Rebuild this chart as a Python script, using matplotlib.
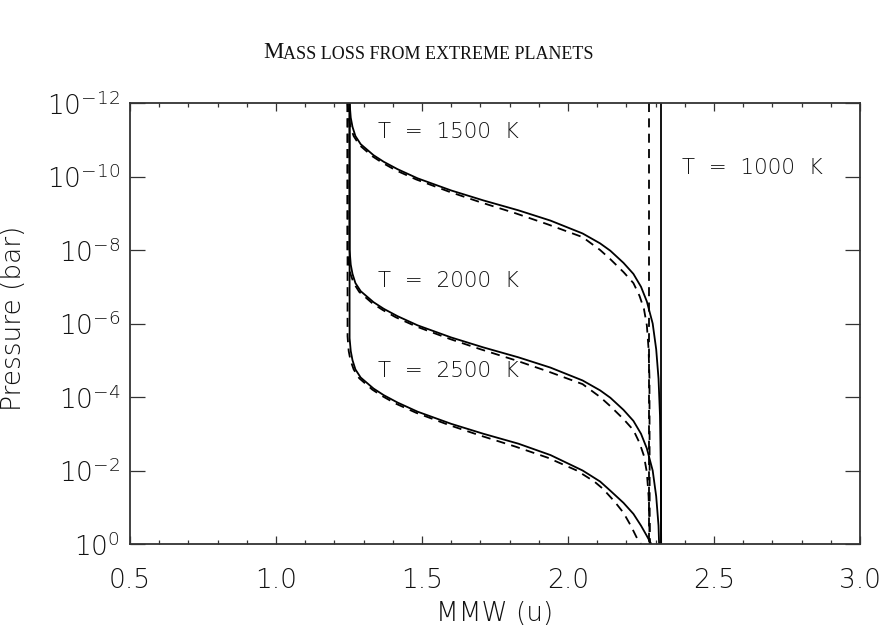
import numpy as np
import matplotlib
matplotlib.use('Agg')
import matplotlib.pyplot as plt
from matplotlib.ticker import FixedLocator, MultipleLocator, NullLocator

# values: mean molecular weight (u) vs log10 pressure (bar)
# solid = full model, dashed = comparison model

mmw_1500 = [1.252, 1.256, 1.262, 1.272, 1.29, 1.334, 1.369, 1.416, 1.485, 1.60, 1.71, 1.83,
            1.94, 2.05, 2.11, 2.145, 2.19, 2.224, 2.25, 2.27, 2.29, 2.302, 2.31, 2.315, 2.318, 2.319]
logp_1500 = [-12.0, -11.6, -11.35, -11.1, -10.88, -10.58, -10.40, -10.20, -9.95, -9.62, -9.35, -9.08,
             -8.80, -8.45, -8.18, -7.98, -7.65, -7.35, -7.0, -6.6, -6.0, -5.3, -4.5, -3.5, -2.0, 0.0]

mmw_1500_d = [1.245, 1.249, 1.255, 1.266, 1.285, 1.33, 1.365, 1.41, 1.48, 1.595, 1.70, 1.82,
              1.93, 2.05, 2.11, 2.145, 2.19, 2.224, 2.245, 2.26, 2.27, 2.276, 2.279, 2.28]
logp_1500_d = [-12.0, -11.6, -11.35, -11.1, -10.86, -10.55, -10.37, -10.17, -9.92, -9.58, -9.30, -9.0,
               -8.70, -8.35, -8.0, -7.75, -7.4, -7.1, -6.75, -6.4, -5.95, -5.3, -4.5, 0.0]

mmw_2000 = [1.252, 1.252, 1.256, 1.262, 1.272, 1.29, 1.334, 1.369, 1.416, 1.485, 1.60, 1.71, 1.83,
            1.94, 2.05, 2.11, 2.145, 2.19, 2.224, 2.25, 2.27, 2.29, 2.302, 2.31, 2.312]
logp_2000 = [-12.0, -8.0, -7.6, -7.35, -7.1, -6.88, -6.58, -6.40, -6.20, -5.95, -5.62, -5.35, -5.08,
             -4.80, -4.45, -4.18, -3.98, -3.65, -3.35, -3.0, -2.6, -2.0, -1.3, -0.5, 0.0]

mmw_2000_d = [1.245, 1.245, 1.249, 1.255, 1.266, 1.285, 1.33, 1.365, 1.41, 1.48, 1.595, 1.70, 1.82,
              1.93, 2.05, 2.11, 2.145, 2.19, 2.224, 2.245, 2.26, 2.27, 2.276, 2.279, 2.28]
logp_2000_d = [-12.0, -8.0, -7.6, -7.35, -7.1, -6.86, -6.55, -6.37, -6.17, -5.92, -5.58, -5.30, -5.0,
               -4.70, -4.35, -4.0, -3.75, -3.4, -3.1, -2.75, -2.4, -1.95, -1.3, -0.5, 0.0]

mmw_2500 = [1.252, 1.252, 1.256, 1.262, 1.272, 1.29, 1.334, 1.369, 1.416, 1.485, 1.60, 1.71, 1.83,
            1.94, 2.05, 2.11, 2.145, 2.19, 2.224, 2.25, 2.27, 2.285]
logp_2500 = [-12.0, -5.6, -5.25, -5.0, -4.75, -4.53, -4.23, -4.05, -3.85, -3.60, -3.27, -3.0, -2.73,
             -2.42, -2.0, -1.7, -1.45, -1.12, -0.82, -0.5, -0.22, 0.0]

mmw_2500_d = [1.245, 1.245, 1.249, 1.255, 1.266, 1.285, 1.33, 1.365, 1.41, 1.48, 1.595, 1.70, 1.82,
              1.93, 2.03, 2.09, 2.12, 2.16, 2.19, 2.215, 2.24, 2.25]
logp_2500_d = [-12.0, -5.65, -5.25, -5.0, -4.75, -4.51, -4.2, -4.02, -3.82, -3.57, -3.23, -2.95, -2.65,
               -2.35, -2.0, -1.7, -1.5, -1.15, -0.85, -0.5, -0.1, 0.0]

# T = 1000 K stays molecular everywhere
mmw_1000 = [2.319, 2.319]
logp_1000 = [-12.0, 0.0]
mmw_1000_d = [2.279, 2.279]
logp_1000_d = [-12.0, 0.0]

labels = ['T  =  1500  K', 'T  =  2000  K', 'T  =  2500  K', 'T  =  1000  K']
label_mmw = [1.348, 1.348, 1.348, 2.391]
label_logp = [-11.2, -7.16, -4.7, -10.22]

ytick_exp = [-12, -10, -8, -6, -4, -2, 0]

plt.rcParams['font.family'] = ['DejaVu Sans']
plt.rcParams['font.weight'] = 'light'
plt.rcParams['axes.labelweight'] = 'light'
plt.rcParams['mathtext.default'] = 'regular'
INK = '#111111'

fig = plt.figure(figsize=(8.8, 6.28), dpi=100)
ax = fig.add_axes([130/880, 1 - 544/628, (860 - 130)/880, (544 - 103)/628])

dash = (0, (5, 3.5))
curves = [(mmw_1500, logp_1500, '-'), (mmw_1500_d, logp_1500_d, dash),
          (mmw_2000, logp_2000, '-'), (mmw_2000_d, logp_2000_d, dash),
          (mmw_2500, logp_2500, '-'), (mmw_2500_d, logp_2500_d, dash),
          (mmw_1000, logp_1000, '-'), (mmw_1000_d, logp_1000_d, dash)]
for x, lp, ls in curves:
    ax.plot(x, 10.0 ** np.array(lp), color='black', linestyle=ls, lw=1.3)

for txt, x, lp in zip(labels, label_mmw, label_logp):
    ax.text(x, 10.0 ** lp, txt, fontsize=15.5, va='center', ha='left', color=INK)

ax.set_yscale('log')
ax.set_xlim(0.5, 3.0)
ax.set_ylim(1e0, 1e-12)

ax.xaxis.set_major_locator(MultipleLocator(0.5))
ax.xaxis.set_minor_locator(MultipleLocator(0.1))
ax.xaxis.set_major_formatter(plt.FuncFormatter(lambda v, p: f'{v:.1f}'))
ax.yaxis.set_major_locator(FixedLocator([10.0 ** e for e in ytick_exp]))
ax.yaxis.set_minor_locator(NullLocator())
ax.set_yticklabels([f'$10^{{{e}}}$' for e in ytick_exp])

ax.tick_params(which='both', direction='in', top=True, right=True, width=0.9,
               color='#333333', labelcolor=INK, labelsize=19)
ax.tick_params(axis='x', which='major', length=5.5, pad=17)
ax.tick_params(axis='x', which='minor', length=3)
ax.tick_params(axis='y', which='major', length=11, pad=7)
for s in ax.spines.values():
    s.set_linewidth(1.3)
    s.set_color('#333333')

ax.set_xlabel('MMW (u)', fontsize=19, labelpad=6, color=INK)
fig.text(14/880, 1 - 318/628, 'Pressure (bar)', rotation=90, fontsize=19,
         ha='center', va='center', color=INK)

# small caps running title
t1 = fig.text(263/880, 1 - 58/628, 'M', fontsize=16.5, family='Liberation Serif',
              va='baseline', color=INK, weight='normal')
fig.canvas.draw()
ax.annotate('ASS LOSS FROM EXTREME PLANETS', xy=(1, 0), xycoords=t1, fontsize=13,
            family='Liberation Serif', va='bottom', color=INK, weight='normal',
            annotation_clip=False)

fig.savefig('out.png', dpi=100)
